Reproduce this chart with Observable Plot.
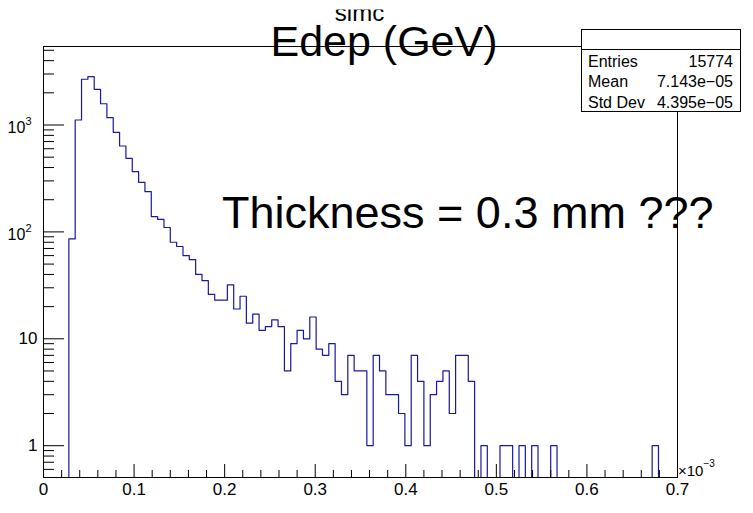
<!DOCTYPE html>
<html><head><meta charset="utf-8">
<script src="https://cdn.jsdelivr.net/npm/d3@7"></script>
<script src="https://cdn.jsdelivr.net/npm/@observablehq/plot@0.6"></script>
<style>
html,body{margin:0;padding:0;background:#fff;}
#chart{position:relative;width:753px;height:513px;overflow:hidden;}
</style></head><body><div id="chart"></div>
<script>
// ---- data (x in units of 1e-3 GeV) ----
const binStart = 0;
const binWidth = 0.007;
const counts = [
  0, 0, 0, 0, 86, 1114, 2680, 2830, 2158, 1581,
  1170, 855, 636, 488, 366, 291, 238, 139, 131, 110,
  80, 73, 60, 55, 40, 35, 26, 23, 23, 32,
  19, 25, 14, 17, 12, 13, 15, 13, 5, 9,
  12, 10, 16, 8, 7, 9, 4, 3, 7, 5,
  5, 1, 7, 5, 3, 3, 2, 1, 7, 4,
  1, 3, 4, 5, 2, 7, 7, 4, 0, 1,
  0, 0, 1, 1, 0, 1, 0, 1, 0, 0,
  1, 0, 0, 0, 0, 0, 0, 0, 0, 0,
  0, 0, 0, 0, 0, 0, 1, 0, 0, 0
];
const xTicks = [0, 0.1, 0.2, 0.3, 0.4, 0.5, 0.6, 0.7];
const xTickLabels = ["0", "0.1", "0.2", "0.3", "0.4", "0.5", "0.6", "0.7"];
const xMinorTicks = [0.02,0.04,0.06,0.08,0.12,0.14,0.16,0.18,0.22,0.24,0.26,0.28,0.32,0.34,0.36,0.38,
  0.42,0.44,0.46,0.48,0.52,0.54,0.56,0.58,0.62,0.64,0.66,0.68];
const yMajor = [1, 10, 100, 1000];
const yMinor = [0.6,0.7,0.8,0.9,2,3,4,5,6,7,8,9,20,30,40,50,60,70,80,90,200,300,400,500,600,700,800,900,2000,3000,4000,5000];
const yDomain = [0.504, 5425];
const histName = "simc";
const titleText = "Edep (GeV)";
const statsLabels = ["Entries", "Mean", "Std Dev"];
const statsValues = ["15774", "7.143e\u221205", "4.395e\u221205"];
const noteText = "Thickness = 0.3 mm ???";
const xExponent = ["\u00d710", "\u22123"];

// ---- build step outline ----
const steps = counts.map((c, i) => ({x: binStart + i * binWidth, y: c > 0 ? c : yDomain[0]}));
steps.push({x: binStart + counts.length * binWidth, y: steps[steps.length - 1].y});

const W = 753, H = 513, mL = 43, mR = 76, mT = 46, mB = 36;
const fw = W - mL - mR, fh = H - mT - mB;
const FONT = "'Liberation Sans', Arial, Helvetica, sans-serif";

const plot = Plot.plot({
  width: W, height: H,
  marginLeft: mL, marginRight: mR, marginTop: mT, marginBottom: mB,
  style: {fontFamily: FONT, color: "#000", background: "#fff", overflow: "visible"},
  x: {domain: [xTicks[0], xTicks[xTicks.length - 1]]},
  y: {type: "log", domain: yDomain},
  marks: [
    Plot.line(steps, {x: "x", y: "y", curve: "step-after", stroke: "#1818a0", strokeWidth: 1.2, clip: true}),
    Plot.ruleX(xMinorTicks, {x: d => d, insetTop: fh - 7, stroke: "#000"}),
    Plot.ruleX(xTicks, {x: d => d, insetTop: fh - 13, stroke: "#000"}),
    Plot.ruleY(yMinor, {y: d => d, insetRight: fw - 11, stroke: "#000"}),
    Plot.ruleY(yMajor, {y: d => d, insetRight: fw - 21, stroke: "#000"}),
    Plot.frame({stroke: "#000"}),
    Plot.axisX({ticks: xTicks, tickSize: 0, tickPadding: 5, fontSize: 17, label: null,
      tickFormat: d => xTickLabels[xTicks.indexOf(d)]}),
    Plot.axisY({ticks: yMajor, tickSize: 0, tickPadding: 6, fontSize: 17, label: null,
      tickFormat: d => String(d)})
  ]
});
document.getElementById("chart").appendChild(plot);

// ---- superscript labels on y axis ----
const svg = d3.select(plot);
svg.selectAll('g[aria-label="y-axis tick label"] text').each(function() {
  const t = d3.select(this);
  const s = t.text();
  if (s.length >= 3) {
    const k = s.length - 1;
    const prev = t.attr("transform") || "";
    t.text("").attr("font-size", 16).attr("transform", prev + " translate(-6,3)");
    t.append("tspan").text("10");
    t.append("tspan").text(String(k)).attr("font-size", 11).attr("dy", "-0.75em");
  }
});

// ---- overlays: title, name, stats box, note ----
const g = svg.append("g").attr("font-family", FONT).attr("fill", "#000").attr("text-anchor", "start");
svg.append("defs").append("clipPath").attr("id", "nameClip")
  .append("rect").attr("x", 300).attr("y", 9.5).attr("width", 140).attr("height", 20);
g.append("text").attr("x", 359.5).attr("y", 21).attr("text-anchor", "middle")
  .attr("font-size", 24).attr("clip-path", "url(#nameClip)").text(histName);
g.append("text").attr("x", 384).attr("y", 56).attr("text-anchor", "middle")
  .attr("font-size", 43).text(titleText);

g.append("rect").attr("x", 581.5).attr("y", 29.5).attr("width", 159).attr("height", 82)
  .attr("fill", "#fff").attr("stroke", "#000");
g.append("line").attr("x1", 581.5).attr("x2", 740.5).attr("y1", 49.5).attr("y2", 49.5).attr("stroke", "#000");
const rowY = [66.5, 87, 107.5];
statsLabels.forEach((lab, i) => {
  g.append("text").attr("x", 588).attr("y", rowY[i]).attr("font-size", 16)
    .attr("text-anchor", "start").text(lab);
  g.append("text").attr("x", 733).attr("y", rowY[i]).attr("font-size", 16)
    .attr("text-anchor", "end").text(statsValues[i]);
});

g.append("text").attr("x", 222).attr("y", 228).attr("font-size", 45)
  .attr("text-anchor", "start").text(noteText);

const ex = g.append("text").attr("x", 678).attr("y", 476).attr("font-size", 15).attr("text-anchor", "start");
ex.append("tspan").text(xExponent[0]);
ex.append("tspan").text(xExponent[1]).attr("font-size", 10).attr("dy", "-0.9em");
</script>
</body></html>
